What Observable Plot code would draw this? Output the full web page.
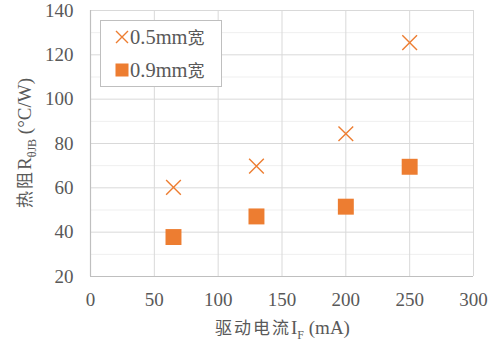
<!DOCTYPE html>
<html><head><meta charset="utf-8">
<script src="https://cdn.jsdelivr.net/npm/d3@7"></script>
<script src="https://cdn.jsdelivr.net/npm/@observablehq/plot@0.6"></script>
<style>
body{margin:0;background:#fff;}
#wrap{width:494px;height:345px;}
</style></head><body><div id="wrap"></div>
<script>
const current = [65, 130, 200, 250];
const r05 = [60.2, 69.8, 84.4, 125.5];
const r09 = [37.8, 47.1, 51.5, 69.5];
const seriesNames = ["0.5mm宽", "0.9mm宽"];
const xTicks = [0, 50, 100, 150, 200, 250, 300];
const yTicks = [20, 40, 60, 80, 100, 120, 140];
const yMinor = [30, 50, 70, 90, 110, 130];

const orange = "#ED7D31";
const textColor = "#595959";
const serif = "'Liberation Serif', 'Times New Roman', serif";
const cjk = "'Noto Sans CJK SC', sans-serif";

const symTimes = {draw(ctx, size){ const h = Math.sqrt(size)/2; ctx.moveTo(-h,-h); ctx.lineTo(h,h); ctx.moveTo(-h,h); ctx.lineTo(h,-h); }};
const symSquare = {draw(ctx, size){ const h = Math.sqrt(size)/2; ctx.rect(-h,-h,2*h,2*h); }};

const d05 = current.map((c,i)=>({x:c, y:r05[i]}));
const d09 = current.map((c,i)=>({x:c, y:r09[i]}));

const plot = Plot.plot({
  width: 494, height: 345,
  marginLeft: 90, marginRight: 21, marginTop: 10, marginBottom: 69,
  style: {fontFamily: serif, fontSize: "19px", color: textColor, background: "#fff"},
  x: {domain: [0, 300]},
  y: {domain: [20, 140]},
  marks: [
    Plot.gridY(yMinor, {stroke: "#efefef", strokeOpacity: 1, strokeWidth: 1}),
    Plot.gridY(yTicks, {stroke: "#d9d9d9", strokeOpacity: 1, strokeWidth: 1}),
    Plot.gridX(xTicks, {stroke: "#d9d9d9", strokeOpacity: 1, strokeWidth: 1}),
    Plot.ruleX([0], {stroke: "#bfbfbf", strokeWidth: 1.2}),
    Plot.ruleY([20], {stroke: "#bfbfbf", strokeWidth: 1.2}),
    Plot.axisX(xTicks, {tickSize: 0, tickPadding: 16, label: null, fill: textColor, fontFamily: serif, fontSize: 19}),
    Plot.axisY(yTicks, {tickSize: 0, tickPadding: 17, label: null, fill: textColor, fontFamily: serif, fontSize: 19}),
    Plot.dot(d05, {x: "x", y: "y", symbol: symTimes, r: 8.3, stroke: orange, strokeWidth: 1.4, fill: "none"}),
    Plot.dot(d09, {x: "x", y: "y", symbol: symSquare, r: 9.0, fill: orange, stroke: "none"})
  ]
});
document.getElementById("wrap").appendChild(plot);

const svg = d3.select(plot);
const xs = plot.scale("x"), ys = plot.scale("y");
const xMid = (xs.range[0] + xs.range[1]) / 2;
const yMid = (ys.range[0] + ys.range[1]) / 2;

// x axis label
const xl = svg.append("text").attr("x", xMid + 1).attr("y", 334)
  .attr("text-anchor", "middle").attr("fill", textColor).style("font-size", "19px");
xl.append("tspan").style("font-family", cjk).style("font-size", "17px").attr("letter-spacing", "2px").text("驱动电流");
xl.append("tspan").style("font-family", serif).text("I");
xl.append("tspan").style("font-family", serif).style("font-size", "12px").attr("dy", 5).text("F");
xl.append("tspan").style("font-family", serif).attr("dy", -5).text(" (mA)");

// y axis label
const yl = svg.append("text").attr("transform", `translate(31,${yMid}) rotate(-90)`)
  .attr("text-anchor", "middle").attr("fill", textColor).style("font-size", "19px");
yl.append("tspan").style("font-family", cjk).style("font-size", "17px").attr("letter-spacing", "2px").text("热阻");
yl.append("tspan").style("font-family", serif).text("R");
yl.append("tspan").style("font-family", serif).style("font-size", "12px").attr("dy", 5).text("θJB");
yl.append("tspan").style("font-family", serif).attr("dy", -5).text(" (°C/W)");

// legend
const lg = svg.append("g");
lg.append("rect").attr("x", 100.5).attr("y", 20.5).attr("width", 121).attr("height", 66)
  .attr("fill", "#fff").attr("stroke", "#bfbfbf").attr("stroke-width", 1);
const rowsY = [37, 70];
const h = 6;
lg.append("path").attr("d", `M${122-h},${rowsY[0]-h}L${122+h},${rowsY[0]+h}M${122-h},${rowsY[0]+h}L${122+h},${rowsY[0]-h}`)
  .attr("stroke", orange).attr("stroke-width", 1.4).attr("fill", "none");
lg.append("rect").attr("x", 122-6.5).attr("y", rowsY[1]-6.5).attr("width", 13).attr("height", 13).attr("fill", orange);
seriesNames.forEach((name, i) => {
  const t = lg.append("text").attr("x", 130).attr("y", rowsY[i]).attr("dy", "0.34em")
    .attr("text-anchor", "start").attr("fill", textColor).style("font-size", "20.5px");
  t.append("tspan").style("font-family", serif).text(name.replace("宽", ""));
  t.append("tspan").style("font-family", cjk).style("font-size", "17px").text("宽");
});
</script></body></html>
